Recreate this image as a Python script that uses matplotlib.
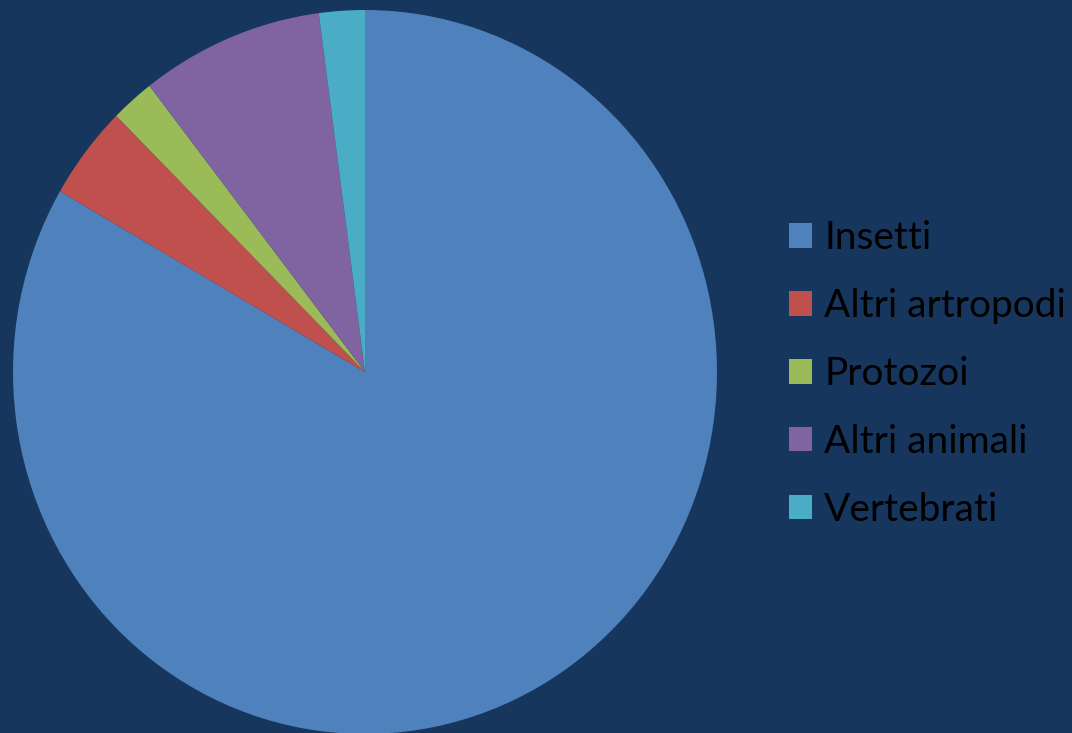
import matplotlib
matplotlib.use("Agg")
import matplotlib.pyplot as plt

# Data (share of species, %)
categories = ['Insetti', 'Altri artropodi', 'Protozoi', 'Altri animali', 'Vertebrati']
values = [83.4, 4.2, 2.0, 8.4, 2.1]
colors = ['#4F81BD', '#C0504D', '#9BBB59', '#8064A2', '#4BACC6']
bg = '#17365D'

W, H = 1072, 733
fig = plt.figure(figsize=(W / 100, H / 100), dpi=100, facecolor=bg)

# pie centre ~ (365, 372) px, radius ~352 px wide, ~362 px tall (slightly stretched)
cx, cy, rx, ry = 365, 372, 352, 362
ax = fig.add_axes([(cx - rx) / W, (H - cy - ry) / H, 2 * rx / W, 2 * ry / H])
ax.set_facecolor(bg)

wedges, _ = ax.pie(values, colors=colors, startangle=90, counterclock=False,
                   wedgeprops=dict(edgecolor='none', antialiased=True))
ax.set_aspect('auto')
ax.set_xlim(-1, 1)
ax.set_ylim(-1, 1)
ax.axis('off')

leg = fig.legend(wedges, categories, loc='center left',
                 bbox_to_anchor=(789 / W, 1 - 374 / H),
                 frameon=False, prop={'family': 'Lato', 'size': 28},
                 labelcolor='black', handlelength=0.59, handleheight=0.59,
                 handletextpad=0.31, labelspacing=0.82,
                 borderpad=0, borderaxespad=0)

fig.savefig('out.png', dpi=100, facecolor=bg)
